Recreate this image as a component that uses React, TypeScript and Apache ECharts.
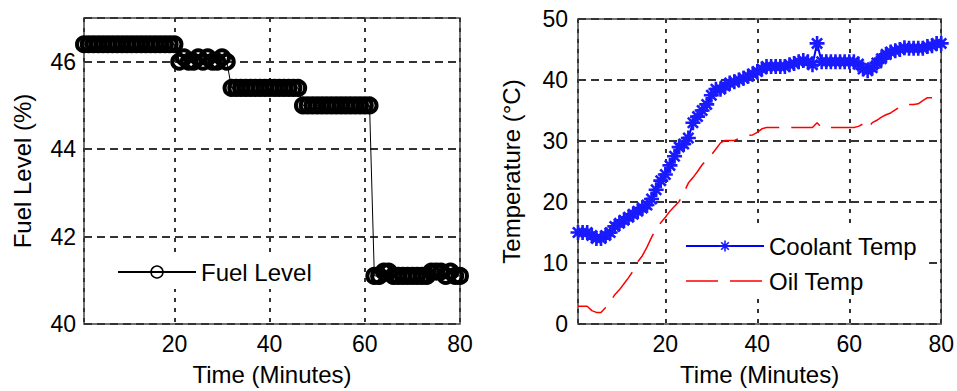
import React, { useEffect, useRef } from 'react';
import * as echarts from 'echarts';

const FONT = '"Liberation Sans", Arial, Helvetica, sans-serif';

// sample times (minutes)
const minutes = Array.from({ length: 80 }, (_, i) => i + 1);

const fuelLevel = [
  46.4, 46.4, 46.4, 46.4, 46.4, 46.4, 46.4, 46.4, 46.4, 46.4,
  46.4, 46.4, 46.4, 46.4, 46.4, 46.4, 46.4, 46.4, 46.4, 46.4,
  46.0, 46.1, 46.0, 46.0, 46.1, 46.0, 46.1, 46.0, 46.0, 46.1,
  46.0, 45.4, 45.4, 45.4, 45.4, 45.4, 45.4, 45.4, 45.4, 45.4,
  45.4, 45.4, 45.4, 45.4, 45.4, 45.4, 45.0, 45.0, 45.0, 45.0,
  45.0, 45.0, 45.0, 45.0, 45.0, 45.0, 45.0, 45.0, 45.0, 45.0,
  45.0, 41.1, 41.1, 41.2, 41.2, 41.1, 41.1, 41.1, 41.1, 41.1,
  41.1, 41.1, 41.1, 41.2, 41.2, 41.2, 41.1, 41.2, 41.1, 41.1,
];

const coolantTemp = [
  15, 15, 15, 14.5, 14, 14, 14.5, 15, 16, 16.5,
  17, 17.5, 18, 18.5, 19, 19.5, 20.5, 22, 23.5, 24.5,
  26, 27.5, 29, 29.5, 30.5, 33, 34, 35, 36, 37.5,
  38.5, 38.5, 39, 39.5, 39.7, 40, 40.3, 40.6, 41, 41.4,
  41.8, 42.2, 42.2, 42.2, 42.2, 42.2, 42.5, 42.7, 43, 43.2,
  43, 42.5, 46, 43, 43, 43, 43, 43, 43, 43,
  43, 42.6, 41.8, 41.5, 42, 42.8, 43.5, 44.2, 44.6, 44.8,
  45, 45.3, 45.2, 45.2, 45.2, 45.2, 45.5, 45.6, 46, 46,
];

const oilTemp = [
  2.9, 2.9, 2.9, 2.2, 1.9, 1.9, 2.7, 3.6, 4.8, 5.6,
  6.6, 7.6, 8.7, 10.2, 11.2, 12.6, 14.2, 15.7, 16.6, 17.5,
  18.5, 19.3, 20.1, 21.5, 23.1, 24.0, 25.0, 26.1, 26.9, 27.7,
  28.7, 29.7, 30.1, 30.1, 30.1, 30.4, 30.7, 30.9, 31.0, 31.4,
  32.0, 32.2, 32.2, 32.2, 32.2, 32.2, 32.2, 32.2, 32.2, 32.2,
  32.2, 32.2, 33.0, 32.2, 32.2, 32.2, 32.2, 32.2, 32.2, 32.2,
  32.2, 32.4, 32.8, 32.1, 33.0, 33.4, 33.9, 34.3, 34.6, 35.1,
  35.6, 36.0, 36.0, 36.0, 36.1, 36.6, 37.1, 37.1,
];

const STAR = 'path://M5,0L5,10M0,5L10,5M1.6,1.6L8.4,8.4M8.4,1.6L1.6,8.4';
const OIL_DASH = [32, 12];

const tickLabel = { fontSize: 23, color: '#000', fontFamily: FONT };
const nameStyle = { fontSize: 24, color: '#000', fontFamily: FONT };
const gridLineX = { show: true, lineStyle: { color: '#333', width: 2, type: [4, 6] as number[] } };
const gridLineY = { show: true, lineStyle: { color: '#333', width: 2, type: [8, 5] as number[] } };

export default function App() {
  const ref = useRef<HTMLDivElement>(null);
  useEffect(() => {
    if (!ref.current) return;
    const chart = echarts.init(ref.current, undefined, { renderer: 'svg' });
    const option: any = {
      animation: false,
      backgroundColor: '#fff',
      grid: [
        { left: 84, top: 18, width: 376, height: 307, show: true, borderColor: '#444', borderWidth: 1.5 },
        { left: 578, top: 19, width: 370, height: 306, show: true, borderColor: '#444', borderWidth: 1.5 },
      ],
      xAxis: [
        {
          gridIndex: 0, type: 'value', min: 1, max: 80, splitNumber: 4,
          name: 'Time (Minutes)', nameLocation: 'middle', nameGap: 38, nameTextStyle: nameStyle,
          axisLine: { show: false }, axisTick: { show: false },
          axisLabel: { ...tickLabel, margin: 8, showMinLabel: false },
          splitLine: gridLineX,
        },
        {
          gridIndex: 1, type: 'value', min: 1, max: 80, splitNumber: 4,
          name: 'Time (Minutes)', nameLocation: 'middle', nameGap: 38, nameTextStyle: nameStyle,
          axisLine: { show: false }, axisTick: { show: false },
          axisLabel: { ...tickLabel, margin: 8, showMinLabel: false },
          splitLine: gridLineX,
        },
      ],
      yAxis: [
        {
          gridIndex: 0, type: 'value', min: 40, max: 47, interval: 2,
          name: 'Fuel Level (%)', nameLocation: 'middle', nameGap: 50, nameTextStyle: nameStyle,
          axisLine: { show: false }, axisTick: { show: false },
          axisLabel: { ...tickLabel, margin: 8, showMaxLabel: false },
          splitLine: gridLineY,
        },
        {
          gridIndex: 1, type: 'value', min: 0, max: 50, interval: 10,
          name: 'Temperature (°C)', nameLocation: 'middle', nameGap: 55, nameTextStyle: nameStyle,
          axisLine: { show: false }, axisTick: { show: false },
          axisLabel: { ...tickLabel, margin: 10 },
          splitLine: gridLineY,
        },
      ],
      legend: [
        {
          data: [{ name: 'Fuel Level', itemStyle: { borderWidth: 1.5 } }],
          left: 109, top: 255, padding: [5, 10, 5, 8],
          itemWidth: 78, itemHeight: 15, backgroundColor: '#fff', selectedMode: false,
          textStyle: { fontSize: 24, color: '#000', fontFamily: FONT },
        },
        {
          data: [
            { name: 'Coolant Temp', itemStyle: { borderWidth: 1.6 } },
            {
              name: 'Oil Temp',
              itemStyle: { color: 'rgba(0,0,0,0)', borderWidth: 0, opacity: 0 },
              lineStyle: { color: '#ff0000', width: 1.5, type: OIL_DASH },
            },
          ],
          orient: 'vertical', left: 667, top: 228,
          padding: [6, 12, 6, 18], itemWidth: 78, itemHeight: 14, itemGap: 11,
          backgroundColor: '#fff', selectedMode: false,
          textStyle: { fontSize: 24, color: '#000', fontFamily: FONT },
        },
      ],
      series: [
        {
          name: 'Fuel Level', type: 'line', xAxisIndex: 0, yAxisIndex: 0,
          data: minutes.map((t, i) => [t, fuelLevel[i]]),
          symbol: 'circle', symbolSize: 14, showAllSymbol: true,
          itemStyle: { color: 'rgba(0,0,0,0)', borderColor: '#000', borderWidth: 4 },
          lineStyle: { color: '#000', width: 1 },
        },
        {
          name: 'Coolant Temp', type: 'line', xAxisIndex: 1, yAxisIndex: 1,
          data: minutes.map((t, i) => [t, coolantTemp[i]]),
          symbol: STAR, symbolSize: 15, showAllSymbol: true,
          itemStyle: { color: 'rgba(0,0,0,0)', borderColor: '#1a1aff', borderWidth: 2.6 },
          lineStyle: { color: '#0000ff', width: 2 },
        },
        {
          name: 'Oil Temp', type: 'line', xAxisIndex: 1, yAxisIndex: 1,
          data: oilTemp.map((v, i) => [minutes[i], v]),
          symbol: 'none',
          itemStyle: { color: '#ff0000' },
          lineStyle: { color: '#ff0000', width: 1.5, type: OIL_DASH },
        },
      ],
    };
    chart.setOption(option);
    return () => chart.dispose();
  }, []);
  return (
    <div
      ref={ref}
      style={{ position: 'fixed', left: 0, top: 0, width: 957, height: 391, background: '#fff' }}
    />
  );
}
